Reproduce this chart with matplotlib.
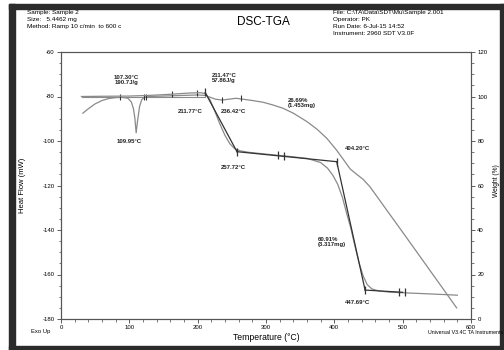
import matplotlib
matplotlib.use("Agg")
import matplotlib.pyplot as plt
from matplotlib.patches import Rectangle

plt.rcParams['font.family'] = ['Liberation Sans', 'DejaVu Sans']
plt.rcParams['axes.unicode_minus'] = False

# ---- data ----
dsc_T = [32, 40, 50, 60, 70, 80, 90, 98, 103, 106, 108, 110, 112, 115, 118, 122, 130, 150, 180, 200,
         211, 218, 226, 236, 246, 256, 266, 280, 296, 310, 325, 340, 360, 375, 389, 403, 413, 423,
         432, 442, 452, 470, 500, 530, 560, 579]
dsc_mW = [-87.5, -85.5, -83.3, -81.8, -80.9, -80.5, -80.4, -80.8, -82.5, -85.5, -89.5, -96.3, -91.0,
          -84.5, -81.5, -80.3, -80.0, -79.8, -79.5, -79.3, -79.5, -80.3, -81.2, -81.6, -81.2, -80.8,
          -81.2, -81.8, -82.6, -83.8, -85.3, -87.5, -91.3, -94.8, -98.8, -104.0, -108.2, -112.5,
          -114.8, -117.2, -120.5, -128.2, -141.0, -153.9, -166.8, -175.0]

tga_T = [30, 60, 100, 130, 160, 190, 205, 212, 218, 225, 232, 240, 247, 254, 262, 275, 300, 330, 360,
         380, 390, 398, 405, 412, 418, 424, 430, 436, 442, 448, 455, 465, 480, 500, 530, 560, 580]
tga_pct = [100.0, 100.1, 100.2, 100.5, 101.0, 101.6, 101.7, 101.2, 98.5, 93.5, 88.0, 82.5, 78.8, 76.6,
           75.6, 74.9, 74.1, 73.2, 72.2, 70.3, 67.8, 64.5, 60.5, 54.5, 47.5, 41.0, 33.0, 25.5, 19.5,
           15.5, 13.5, 12.6, 12.1, 11.8, 11.4, 11.0, 10.7]

# tangent / analysis lines on the weight curve (segments)
tan_T = [[211, 257.5], [257.5, 403.5], [403.5, 445], [445, 500]]
tan_pct = [[101.8, 75.2], [75.2, 70.7], [70.7, 13.0], [13.0, 12.0]]
base_T = [30, 211]
base_mW = [-80.1, -80.1]

# analysis limit marks
mark_dsc_T = [86, 121, 125, 163, 199, 235, 264]
mark_dsc_mW = [-80.2, -80.2, -80.0, -78.9, -78.3, -81.6, -80.6]
mark_tga_T = [211, 257.5, 318, 326, 403.5, 445, 495, 503]
mark_tga_pct = [101.8, 75.2, 73.6, 73.4, 70.7, 13.0, 12.1, 12.0]

labels = [
    (96, -72.6, "107.30°C\n190.7J/g", 'center'),
    (100.5, -100.3, "109.95°C", 'center'),
    (189, -86.8, "211.77°C", 'center'),
    (252.5, -86.8, "236.42°C", 'center'),
    (220.5, -71.5, "211.47°C\n57.86J/g", 'left'),
    (332, -82.7, "26.69%\n(1.453mg)", 'left'),
    (252, -111.7, "257.72°C", 'center'),
    (415.6, -103.3, "404.20°C", 'left'),
    (376, -145.4, "60.91%\n(3.317mg)", 'left'),
    (434, -172.8, "447.69°C", 'center'),
]

xticks = [0, 100, 200, 300, 400, 500, 600]
yticks_left = [-60, -80, -100, -120, -140, -160, -180]
yticks_right = [0, 20, 40, 60, 80, 100, 120]

# ---- figure ----
fig = plt.figure(figsize=(5.04, 3.5), dpi=100)
W, H = 504, 350
ax = fig.add_axes([61 / W, 1 - 319 / H, 410 / W, 267 / H])
ax2 = ax.twinx()

grey = '#8a8a8a'
dark = '#333333'

ax.plot(dsc_T, dsc_mW, color=grey, lw=0.9)
ax.plot(base_T, base_mW, color=grey, lw=0.8)
ax2.plot(tga_T, tga_pct, color=grey, lw=0.9)
for tx, ty in zip(tan_T, tan_pct):
    ax2.plot(tx, ty, color=dark, lw=0.9)

ax.plot(mark_dsc_T, mark_dsc_mW, ls='none', marker='|', ms=5, mew=0.8, color=dark)
ax2.plot(mark_tga_T, mark_tga_pct, ls='none', marker='|', ms=6, mew=0.9, color=dark)

for x, y, s, ha in labels:
    ax.text(x, y, s, fontsize=4.3, fontweight='bold', ha=ha, va='center', color='#222222',
            linespacing=1.0)

ax.set_xlim(0, 600)
ax.set_ylim(-180, -60)
ax2.set_ylim(0, 120)

ax.set_xticks(xticks)
ax.set_xticks(range(0, 601, 20), minor=True)
ax.set_yticks(yticks_left)
ax.set_yticks(range(-180, -59, 5), minor=True)
ax2.set_yticks(yticks_right)
ax2.set_yticks(range(0, 121, 5), minor=True)

for a in (ax, ax2):
    a.tick_params(which='major', length=3, width=0.6, labelsize=4.3, pad=1.5, color='#444444')
    a.tick_params(which='minor', length=1.8, width=0.5, color='#444444')
    for sp in a.spines.values():
        sp.set_color('#555555')
        sp.set_linewidth(0.8)

ax.set_xlabel("Temperature (°C)", fontsize=6.2, labelpad=2)
ax.set_ylabel("Heat Flow (mW)", fontsize=5.5, labelpad=12)
ax2.set_ylabel("Weight (%)", fontsize=4.8)
ax2.yaxis.set_label_coords((493 - 61) / 410, 0.52)

# header texts
fig.text(27 / W, 1 - 12.5 / H, "Sample: Sample 2", fontsize=4.6, va='center')
fig.text(27 / W, 1 - 19.5 / H, "Size:   5.4462 mg", fontsize=4.6, va='center')
fig.text(27 / W, 1 - 26.5 / H, "Method: Ramp 10 c/min  to 600 c", fontsize=4.6, va='center')
fig.text(263 / W, 1 - 22 / H, "DSC-TGA", fontsize=8.5, ha='center', va='center')
fig.text(333 / W, 1 - 12.5 / H, "File: C:\\TA\\Data\\SDT\\Mu\\Sample 2.001", fontsize=4.6, va='center')
fig.text(333 / W, 1 - 19.5 / H, "Operator: PK", fontsize=4.6, va='center')
fig.text(333 / W, 1 - 26.5 / H, "Run Date: 6-Jul-15 14:52", fontsize=4.6, va='center')
fig.text(333 / W, 1 - 33.5 / H, "Instrument: 2960 SDT V3.0F", fontsize=4.6, va='center')
fig.text(31 / W, 1 - 331 / H, "Exo Up", fontsize=4.2, va='center')
fig.text(428 / W, 1 - 332 / H, "Universal V3.4C TA Instruments", fontsize=3.8, va='center')

# dark photo frame
fc = '#2b2b2b'
fig.patches.append(Rectangle((9 / W, 0), 6 / W, 1 - 4 / H, transform=fig.transFigure, color=fc))
fig.patches.append(Rectangle((9 / W, 1 - 9 / H), 1 - 9 / W, 5 / H, transform=fig.transFigure, color=fc))
fig.patches.append(Rectangle((9 / W, 0), 1 - 9 / W, 4 / H, transform=fig.transFigure, color=fc))
fig.patches.append(Rectangle((1 - 4 / W, 0), 4 / W, 1 - 4 / H, transform=fig.transFigure, color=fc))

fig.savefig("out.png", dpi=100, facecolor='white')
